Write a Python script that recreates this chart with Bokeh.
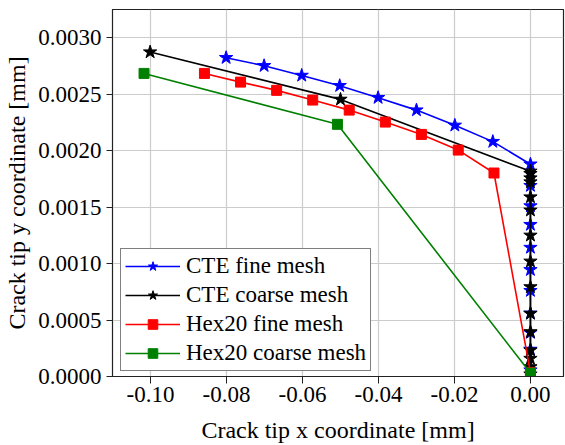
from bokeh.plotting import figure
from bokeh.models import FixedTicker, NumeralTickFormatter, Range1d, Legend, LegendItem
from bokeh.embed import file_html
from bokeh.resources import INLINE

# Crack tip path for each model (x, y in mm)
cte_fine_x = [-0.0801, -0.0701, -0.0602, -0.0502, -0.0401, -0.0300, -0.0199, -0.0099,
              0.0, 0.0, 0.0, 0.0, 0.0, 0.0, 0.0, 0.0, 0.0, 0.0, 0.0]
cte_fine_y = [0.002823, 0.002752, 0.002666, 0.002575, 0.002469, 0.002359, 0.002224, 0.002080,
              0.001880, 0.001690, 0.001510, 0.001345, 0.001142, 0.000945, 0.000760, 0.000560,
              0.000388, 0.000240, 0.000056]

cte_coarse_x = [-0.1001, -0.0500, 0.0, 0.0, 0.0, 0.0, 0.0, 0.0, 0.0, 0.0, 0.0,
                0.0, 0.0, 0.0, 0.0, 0.0, 0.0]
cte_coarse_y = [0.002873, 0.002454, 0.001817, 0.001796, 0.001757, 0.001722, 0.001589,
                0.001472, 0.001250, 0.001020, 0.000793, 0.000558, 0.000395, 0.000233,
                0.000159, 0.000085, 0.000020]

hex_fine_x = [-0.0858, -0.0763, -0.0668, -0.0573, -0.0477, -0.0382, -0.0287, -0.0190,
              -0.0096, 0.0]
hex_fine_y = [0.002684, 0.002607, 0.002534, 0.002448, 0.002359, 0.002253, 0.002144,
              0.002005, 0.001802, 0.000035]

hex_coarse_x = [-0.1017, -0.0508, 0.0]
hex_coarse_y = [0.002684, 0.002233, 0.000030]

x_ticks = [-0.10, -0.08, -0.06, -0.04, -0.02, 0.00]
y_ticks = [0.0000, 0.0005, 0.0010, 0.0015, 0.0020, 0.0025, 0.0030]

FONT = "Liberation Serif"

p = figure(width=565, height=445, output_backend="svg", toolbar_location=None,
           x_range=Range1d(-0.110, 0.0087), y_range=Range1d(0.0, 0.00325),
           min_border_left=112, min_border_right=2, min_border_top=9, min_border_bottom=69)

p.outline_line_color = "#222222"
p.outline_line_width = 1.2

for ax in (p.xaxis[0], p.yaxis[0]):
    ax.major_label_text_font = FONT
    ax.major_label_text_font_size = "23px"
    ax.major_label_text_color = "black"
    ax.axis_label_text_font = FONT
    ax.axis_label_text_font_size = "24px"
    ax.axis_label_text_font_style = "normal"
    ax.axis_label_text_color = "black"
    ax.axis_line_color = "#222222"
    ax.major_tick_line_color = "#222222"
    ax.major_tick_in = 0
    ax.minor_tick_line_color = None

p.xaxis.ticker = FixedTicker(ticks=x_ticks)
p.yaxis.ticker = FixedTicker(ticks=y_ticks)
p.xaxis.formatter = NumeralTickFormatter(format="0.00")
p.yaxis.formatter = NumeralTickFormatter(format="0.0000")
p.xaxis.major_tick_out = 7
p.yaxis.major_tick_out = 6
p.xaxis.major_label_standoff = 3
p.yaxis.major_label_standoff = 5
p.xaxis.axis_label = "Crack tip x coordinate [mm]"
p.yaxis.axis_label = "Crack tip y coordinate [mm]"
p.xaxis.axis_label_standoff = 12
p.yaxis.axis_label_standoff = 5

p.xgrid.grid_line_color = "#cccccc"
p.ygrid.grid_line_color = "#cccccc"
p.xgrid.grid_line_width = 1.2
p.ygrid.grid_line_width = 1.2

series = [
    ("CTE fine mesh", cte_fine_x, cte_fine_y, "blue", "star", 14),
    ("CTE coarse mesh", cte_coarse_x, cte_coarse_y, "black", "star", 14),
    ("Hex20 fine mesh", hex_fine_x, hex_fine_y, "red", "square", 10),
    ("Hex20 coarse mesh", hex_coarse_x, hex_coarse_y, "green", "square", 10),
]

items = []
for label, xs, ys, color, marker, size in series:
    ln = p.line(xs, ys, line_color=color, line_width=1.6)
    sc = p.scatter(xs, ys, marker=marker, size=size, fill_color=color, line_color=color)
    items.append(LegendItem(label=label, renderers=[ln, sc]))

legend = Legend(items=items, location=(8, 5))
legend.label_text_font = FONT
legend.label_text_font_size = "23px"
legend.label_text_color = "black"
legend.glyph_width = 55
legend.glyph_height = 24
legend.label_height = 24
legend.label_standoff = 6
legend.spacing = 3
legend.padding = 4
legend.margin = 0
legend.border_line_color = "black"
legend.border_line_width = 1.2
legend.background_fill_color = "white"
legend.background_fill_alpha = 1.0
p.add_layout(legend)

open("out.html", "w").write(file_html(p, INLINE))
